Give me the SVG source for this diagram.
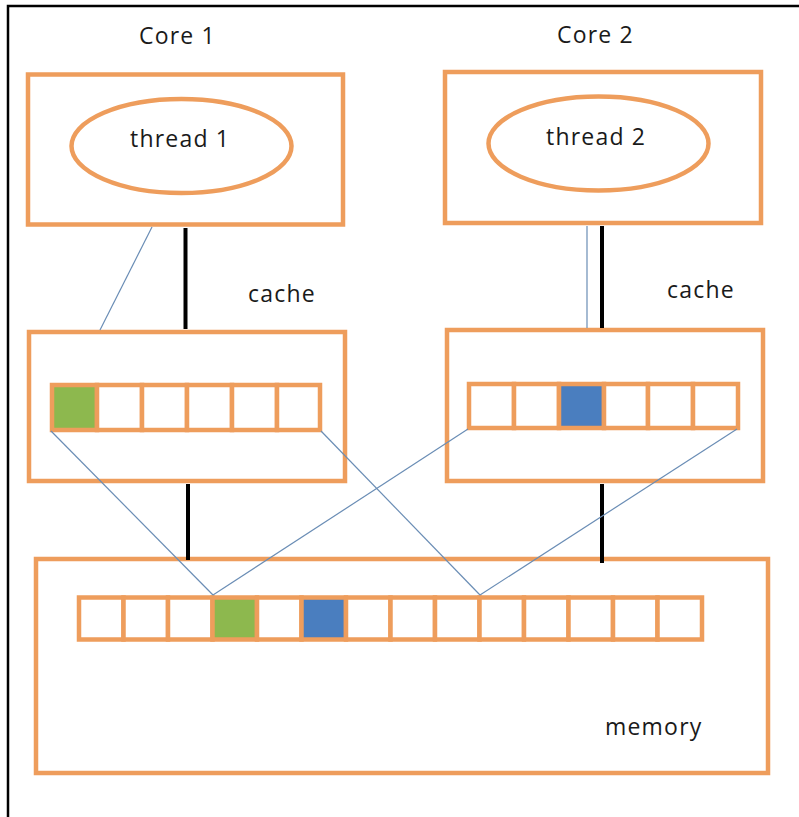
<svg xmlns="http://www.w3.org/2000/svg" width="799" height="817" viewBox="0 0 799 817">
  <style>
    .box { fill: none; stroke: #EE9D5C; stroke-width: 4.5; }
    .cell { fill: #FFFFFF; stroke: #EE9D5C; stroke-width: 4.5; }
    .green { fill: #8DB84E; }
    .blue { fill: #4A7EBF; }
    .label { font-family: "Open Sans", "Liberation Sans", sans-serif; font-size: 23px; letter-spacing: 1.2px; fill: #1A1A1A; }
    .bus { stroke: #000000; stroke-width: 4; fill: none; }
    .link { stroke: #6A8DB5; stroke-width: 1.2; fill: none; }
  </style>

  <rect x="0" y="0" width="799" height="817" fill="#FFFFFF"/>
  <!-- frame edges -->
  <path d="M8 817 V6 H799" fill="none" stroke="#000000" stroke-width="2.5"/>

  <!-- core 1 -->
  <g id="core1">
    <text class="label" x="139" y="44">Core 1</text>
    <rect class="box" x="28" y="74.5" width="315" height="150"/>
  </g>
  <g id="thread1">
    <ellipse class="box" cx="181.5" cy="146" rx="110" ry="47"/>
    <text class="label" x="130" y="147">thread 1</text>
  </g>

  <!-- core 2 -->
  <g id="core2">
    <text class="label" x="557" y="43">Core 2</text>
    <rect class="box" x="445" y="72" width="316" height="151"/>
  </g>
  <g id="thread2">
    <ellipse class="box" cx="598.5" cy="143.5" rx="110" ry="47"/>
    <text class="label" x="546" y="145">thread 2</text>
  </g>

  <!-- cache of core 1 -->
  <g id="cache1">
    <text class="label" x="248" y="302">cache</text>
    <rect class="box" x="29" y="332" width="316" height="149"/>
    <rect class="cell green" x="52" y="385" width="45" height="45"/>
    <rect class="cell" x="97" y="385" width="45" height="45"/>
    <rect class="cell" x="142" y="385" width="45" height="45"/>
    <rect class="cell" x="187" y="385" width="45" height="45"/>
    <rect class="cell" x="232" y="385" width="45" height="45"/>
    <rect class="cell" x="277" y="385" width="43" height="45"/>
  </g>

  <!-- cache of core 2 -->
  <g id="cache2">
    <text class="label" x="667" y="298">cache</text>
    <rect class="box" x="447" y="330" width="316" height="151"/>
    <rect class="cell" x="469" y="384" width="45" height="44"/>
    <rect class="cell" x="514" y="384" width="45" height="44"/>
    <rect class="cell blue" x="559" y="384" width="45" height="44"/>
    <rect class="cell" x="604" y="384" width="44" height="44"/>
    <rect class="cell" x="648" y="384" width="45" height="44"/>
    <rect class="cell" x="693" y="384" width="45" height="44"/>
  </g>

  <!-- main memory -->
  <g id="memory">
    <rect class="box" x="36" y="559" width="732" height="214"/>
    <rect class="cell" x="79" y="597.5" width="44.5" height="42"/>
    <rect class="cell" x="123.5" y="597.5" width="44.5" height="42"/>
    <rect class="cell" x="168" y="597.5" width="44.5" height="42"/>
    <rect class="cell green" x="212.5" y="597.5" width="44.5" height="42"/>
    <rect class="cell" x="257" y="597.5" width="44.5" height="42"/>
    <rect class="cell blue" x="301.5" y="597.5" width="44.5" height="42"/>
    <rect class="cell" x="346" y="597.5" width="44.5" height="42"/>
    <rect class="cell" x="390.5" y="597.5" width="44.5" height="42"/>
    <rect class="cell" x="435" y="597.5" width="44.5" height="42"/>
    <rect class="cell" x="479.5" y="597.5" width="44.5" height="42"/>
    <rect class="cell" x="524" y="597.5" width="44.5" height="42"/>
    <rect class="cell" x="568.5" y="597.5" width="44.5" height="42"/>
    <rect class="cell" x="613" y="597.5" width="44.5" height="42"/>
    <rect class="cell" x="657.5" y="597.5" width="44.5" height="42"/>
    <text class="label" x="605" y="735">memory</text>
  </g>

  <!-- connectors -->
  <g id="connectors">
    <line class="bus" x1="185.5" y1="228" x2="185.5" y2="329"/>
    <line class="bus" x1="602" y1="226" x2="602" y2="328"/>
    <line class="bus" x1="188" y1="484" x2="188" y2="560"/>
    <line class="bus" x1="602" y1="484" x2="602" y2="563"/>
    <line class="link" x1="152" y1="227" x2="100" y2="330"/>
    <line class="link" x1="587" y1="226" x2="587" y2="328"/>
    <line class="link" x1="51" y1="431" x2="213" y2="595"/>
    <line class="link" x1="468" y1="429" x2="213" y2="595"/>
    <line class="link" x1="321" y1="431" x2="480" y2="595"/>
    <line class="link" x1="737" y1="429" x2="480" y2="595"/>
  </g>
</svg>
